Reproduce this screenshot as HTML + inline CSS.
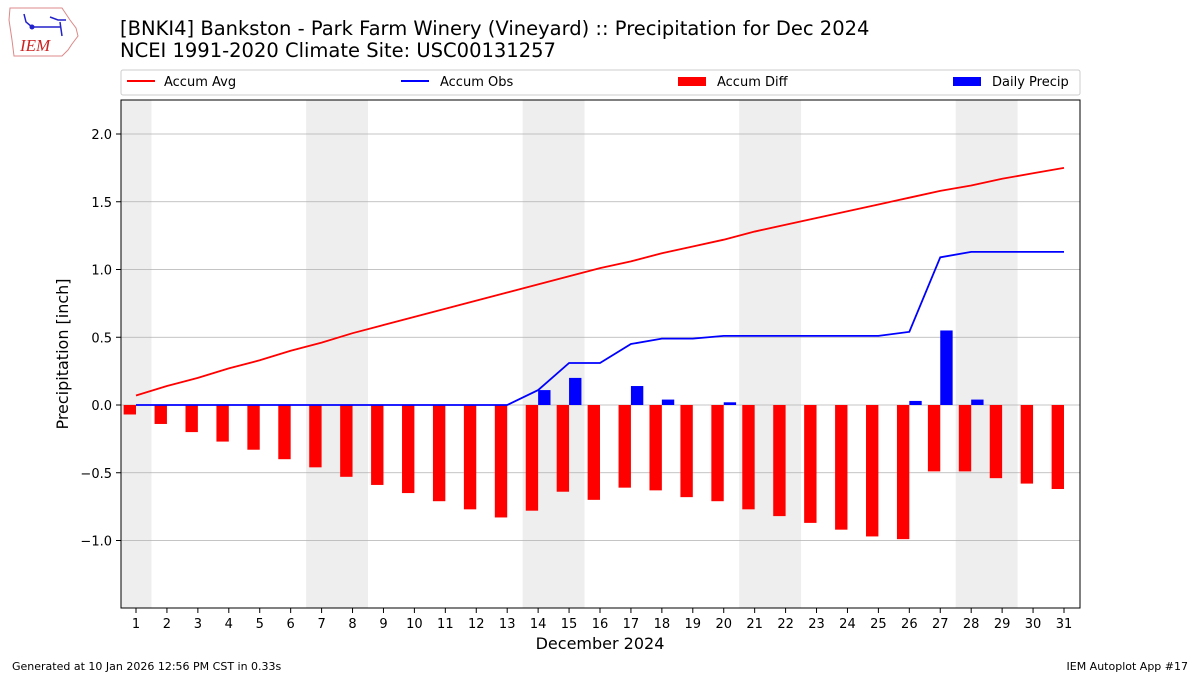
<!DOCTYPE html>
<html><head><meta charset="utf-8"><style>
html,body{margin:0;padding:0;background:#fff;}
body{width:1200px;height:675px;overflow:hidden;font-family:"DejaVu Sans","Liberation Sans",sans-serif;}
</style></head><body>
<svg id="c" width="1200" height="675" xmlns="http://www.w3.org/2000/svg" font-family="DejaVu Sans, Liberation Sans, sans-serif">
<g>
<path d="M10,8 L62,8 L66,14 L70,20 L76,28 L78,36 L72,44 L68,50 L62,56 L14,56 L12,40 L9,20 Z" fill="none" stroke="#d88" stroke-width="1"/>
<path d="M24,14 L26,22 L32,27" stroke="#22c" stroke-width="1.5" fill="none"/>
<circle cx="32" cy="27" r="2.5" fill="#22c"/>
<path d="M32,27 L60,27 M50,17 L58,20 L66,20 M60,22 L62,36" stroke="#22c" stroke-width="1.5" fill="none"/>
<text x="20" y="51" font-family="Liberation Serif, serif" font-style="italic" font-size="17" fill="#c22">IEM</text>
</g>
<text x="120" y="35" font-size="19.5">[BNKI4] Bankston - Park Farm Winery (Vineyard) :: Precipitation for Dec 2024</text>
<text x="120" y="57" font-size="19.5">NCEI 1991-2020 Climate Site: USC00131257</text>
<g id="plot"></g>
<rect x="121" y="70" width="959" height="25" fill="#fff" stroke="#ccc" rx="2"/>
<line x1="127" y1="81" x2="155" y2="81" stroke="#f00" stroke-width="2"/>
<text x="164" y="86" font-size="13">Accum Avg</text>
<line x1="401" y1="81" x2="429" y2="81" stroke="#00f" stroke-width="2"/>
<text x="440" y="86" font-size="13">Accum Obs</text>
<rect x="678" y="77" width="28" height="9" fill="#f00"/>
<text x="717" y="86" font-size="13">Accum Diff</text>
<rect x="953" y="77" width="28" height="9" fill="#00f"/>
<text x="992" y="86" font-size="13">Daily Precip</text>
<text x="600" y="649" font-size="16" text-anchor="middle">December 2024</text>
<text transform="translate(68,354) rotate(-90)" font-size="16" text-anchor="middle">Precipitation [inch]</text>
<text x="12" y="670" font-size="11">Generated at 10 Jan 2026 12:56 PM CST in 0.33s</text>
<text x="1188" y="670" font-size="11" text-anchor="end">IEM Autoplot App #17</text>
</svg>
<script>
var X=function(d){return 136+30.933*(d-1)};
var Y=function(v){return 405-135.5*v};
var avg=[0.07,0.14,0.20,0.27,0.33,0.40,0.46,0.53,0.59,0.65,0.71,0.77,0.83,0.89,0.95,1.01,1.06,1.12,1.17,1.22,1.28,1.33,1.38,1.43,1.48,1.53,1.58,1.62,1.67,1.71,1.75];
var obs=[0,0,0,0,0,0,0,0,0,0,0,0,0,0.11,0.31,0.31,0.45,0.49,0.49,0.51,0.51,0.51,0.51,0.51,0.51,0.54,1.09,1.13,1.13,1.13,1.13];
var daily={14:0.11,15:0.20,17:0.14,18:0.04,20:0.02,26:0.03,27:0.55,28:0.04};
var s='';
[[0.5,1.5],[6.5,8.5],[13.5,15.5],[20.5,22.5],[27.5,29.5]].forEach(function(r){
 var a=Math.max(X(r[0]),121);s+='<rect x="'+a+'" y="100" width="'+(X(r[1])-a)+'" height="508" fill="#eee"/>';});
[-1,-0.5,0,0.5,1,1.5,2].forEach(function(v){var y=Y(v);
 s+='<line x1="121" x2="1080" y1="'+y+'" y2="'+y+'" stroke="#b0b0b0" stroke-width="0.8"/>';
 s+='<line x1="116" x2="121" y1="'+y+'" y2="'+y+'" stroke="#000"/>';
 s+='<text x="112" y="'+(y+5)+'" font-size="13" text-anchor="end">'+(v<0?'\u2212':'')+Math.abs(v).toFixed(1)+'</text>';});
var w=0.4*30.933;
for(var d=1;d<=31;d++){var x=X(d);var df=obs[d-1]-avg[d-1];
 s+='<rect x="'+(x-w)+'" y="405" width="'+w+'" height="'+(-df*135.5)+'" fill="#f00"/>';
 if(daily[d])s+='<rect x="'+x+'" y="'+Y(daily[d])+'" width="'+w+'" height="'+(daily[d]*135.5)+'" fill="#00f"/>';
 s+='<line x1="'+x+'" x2="'+x+'" y1="608" y2="613" stroke="#000"/>';
 s+='<text x="'+x+'" y="628" font-size="13" text-anchor="middle">'+d+'</text>';}
var pa='',po='';for(var d=1;d<=31;d++){pa+=(d>1?'L':'M')+X(d)+','+Y(avg[d-1]);po+=(d>1?'L':'M')+X(d)+','+Y(obs[d-1]);}
s+='<path d="'+pa+'" fill="none" stroke="#f00" stroke-width="1.8"/>';
s+='<path d="'+po+'" fill="none" stroke="#00f" stroke-width="1.8"/>';
s+='<rect x="121" y="100" width="959" height="508" fill="none" stroke="#000" stroke-width="1"/>';
document.getElementById('plot').innerHTML=s;
</script>
</body></html>
